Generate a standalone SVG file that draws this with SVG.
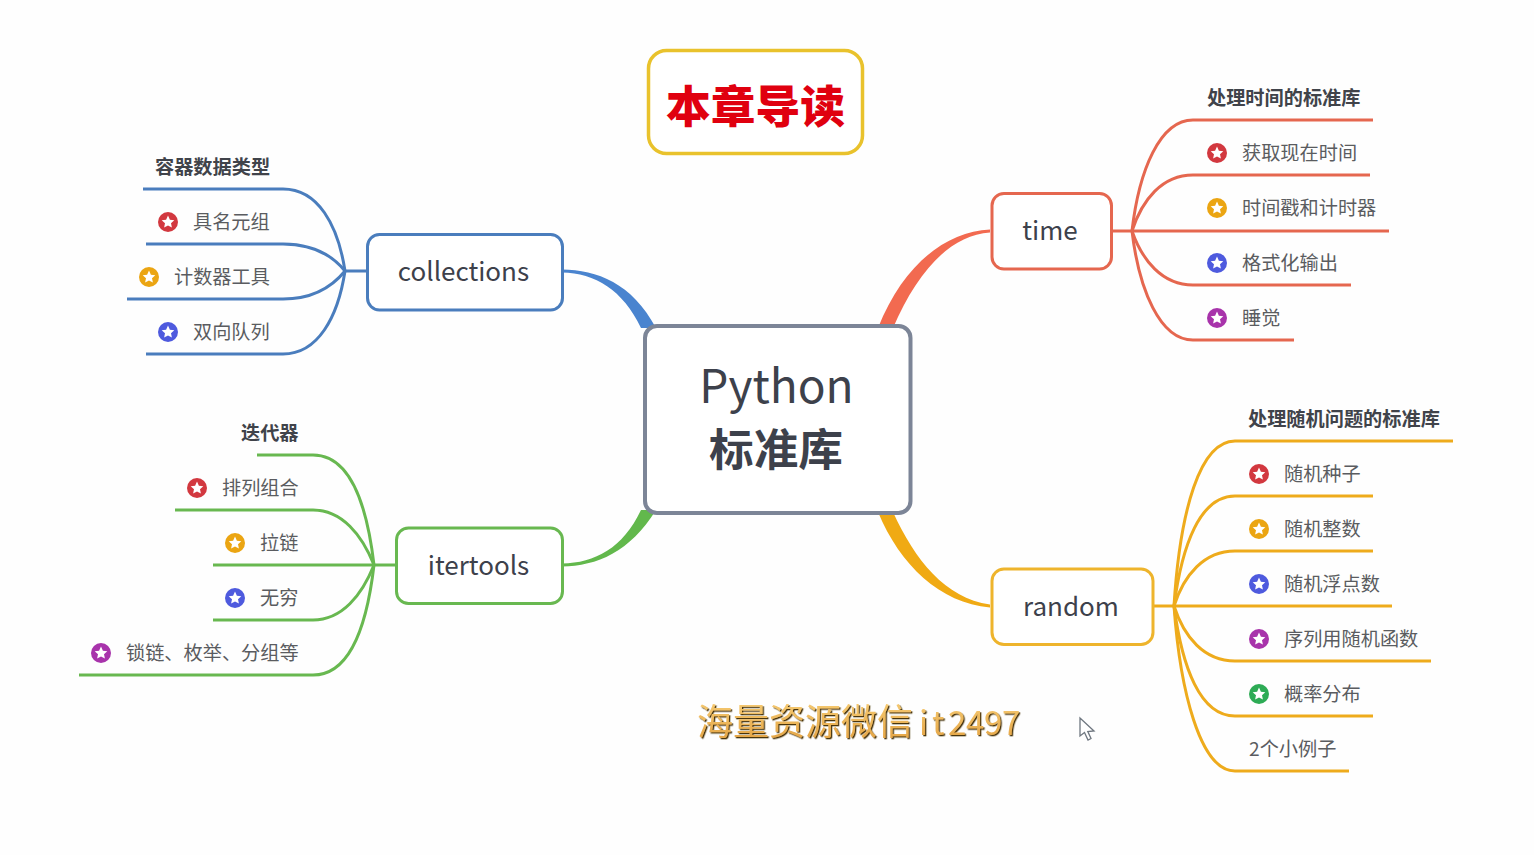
<svg xmlns="http://www.w3.org/2000/svg" width="1534" height="855" viewBox="0 0 1534 855">
<style>
text{font-family:"Noto Sans CJK SC","Noto Sans",sans-serif}
.box{fill:#fff;stroke-width:3}
.nl{font-size:26px;fill:#3d414b;text-anchor:middle}
.it{font-size:19.2px;fill:#5a5c60}
.ti{font-size:19.2px;font-weight:700;fill:#40434a}
.b{fill:none;stroke-width:3}
.blue{stroke:#4a7dbd}.red{stroke:#e5674f}.grn{stroke:#68b850}.yel{stroke:#eeab1c}
</style>
<defs>
<linearGradient id="gold" x1="0" y1="0" x2="0" y2="1"><stop offset="0" stop-color="#f9d27c"/><stop offset="1" stop-color="#e2a040"/></linearGradient>
<filter id="sh" x="-5%" y="-20%" width="110%" height="140%"><feDropShadow dx="1.300" dy="1.300" stdDeviation="0.400" flood-color="#4a3410"/></filter>
<path id="st" d="M0-6.400 1.900-2.200 6.300-1.800 3 1.200 3.900 5.600 0 3.400-3.900 5.600-3 1.200-6.300-1.800-1.900-2.200Z" fill="#fff"/>
<symbol id="s1" overflow="visible"><circle r="10" fill="#d2383f"/><use href="#st"/></symbol>
<symbol id="s2" overflow="visible"><circle r="10" fill="#eba512"/><use href="#st"/></symbol>
<symbol id="s3" overflow="visible"><circle r="10" fill="#4e5ade"/><use href="#st"/></symbol>
<symbol id="s4" overflow="visible"><circle r="10" fill="#a833ab"/><use href="#st"/></symbol>
<symbol id="s5" overflow="visible"><circle r="10" fill="#2dab55"/><use href="#st"/></symbol>
</defs>
<rect width="1534" height="855" fill="#fefefe"/>

<g id="connectors">
<path d="M562 272.500C595 273 623 290 641 328L656 328C632 283 597 270 562 269.500Z" fill="#4a84cf"/>
<path d="M562 566.500C597 566 630 552 656 510L641 510C623 548 595 563 562 563.500Z" fill="#62b84c"/>
<path d="M990 229.500C945 232 903 265 878 328L893 328C917 272 950 235 990 232.500Z" fill="#f26a50"/>
<path d="M990 607.500C940 603 900 565 878 512L893 512C915 560 945 598 990 604.500Z" fill="#f0aa14"/>
<g>
<path class="b blue" d="M367 271H345"/>
<path class="b blue" d="M345 271C338 225 318 189 283 189H143"/>
<path class="b blue" d="M345 271C332 255 312 244 283 244H146"/>
<path class="b blue" d="M345 271C332 287 312 299 283 299H127"/>
<path class="b blue" d="M345 271C338 317 318 354 283 354H146"/>
</g>
<g>
<path class="b grn" d="M396 565H213"/>
<path class="b grn" d="M374 565C367 505 350 455 313 455H257"/>
<path class="b grn" d="M374 565C362 535 342 510 313 510H175"/>
<path class="b grn" d="M374 565C362 595 342 620 313 620H213"/>
<path class="b grn" d="M374 565C367 625 350 675 313 675H79"/>
</g>
<g>
<path class="b red" d="M1112 231H1389"/>
<path class="b red" d="M1132 231C1139 170 1160 120 1193 120H1373"/>
<path class="b red" d="M1132 231C1142 200 1162 175 1193 175H1370"/>
<path class="b red" d="M1132 231C1142 260 1162 285 1193 285H1351"/>
<path class="b red" d="M1132 231C1139 290 1160 340 1193 340H1294"/>
</g>
<g>
<path class="b yel" d="M1153 606H1392"/>
<path class="b yel" d="M1174 606C1180 510 1200 441 1235 441H1453"/>
<path class="b yel" d="M1174 606C1182 545 1200 496 1235 496H1373"/>
<path class="b yel" d="M1174 606C1184 575 1204 551 1235 551H1373"/>
<path class="b yel" d="M1174 606C1184 637 1204 661 1235 661H1431"/>
<path class="b yel" d="M1174 606C1182 667 1200 716 1235 716H1373"/>
<path class="b yel" d="M1174 606C1180 690 1200 771 1235 771H1349"/>
</g>
</g>

<g id="title">
<rect class="box" x="648.500" y="50.500" width="214" height="103" rx="18" stroke="#e9c22c" style="stroke-width:3.500px"/>
<text x="755.500" y="123" font-size="44.700" font-weight="900" fill="#e0000f" text-anchor="middle">本章导读</text>
</g>

<g id="root">
<rect class="box" x="645" y="326" width="265.500" height="187" rx="12" stroke="#7c8597" style="stroke-width:4px"/>
<text x="776.500" y="403" font-size="46" fill="#3d414b" text-anchor="middle">Python</text>
<text x="776" y="466" font-size="44.700" font-weight="700" fill="#3d414b" text-anchor="middle">标准库</text>
</g>

<g id="collections">
<rect class="box" x="367.500" y="234.500" width="195" height="75.500" rx="12" stroke="#4a7dbd"/>
<text class="nl" x="463.500" y="281">collections</text>
<text class="ti" x="155" y="174">容器数据类型</text>
<use href="#s1" x="168" y="222"/><text class="it" x="193" y="229">具名元组</text>
<use href="#s2" x="149" y="277"/><text class="it" x="174" y="284">计数器工具</text>
<use href="#s3" x="168" y="332"/><text class="it" x="193" y="339">双向队列</text>
</g>

<g id="itertools">
<rect class="box" x="396.500" y="528" width="166" height="75.500" rx="12" stroke="#68b850"/>
<text class="nl" x="478.500" y="575">itertools</text>
<text class="ti" x="241" y="440">迭代器</text>
<use href="#s1" x="197" y="488"/><text class="it" x="222" y="495">排列组合</text>
<use href="#s2" x="235" y="543"/><text class="it" x="260" y="550">拉链</text>
<use href="#s3" x="235" y="598"/><text class="it" x="260" y="605">无穷</text>
<use href="#s4" x="101" y="653"/><text class="it" x="126" y="660">锁链、枚举、分组等</text>
</g>

<g id="time">
<rect class="box" x="992" y="193.500" width="119.500" height="75.500" rx="12" stroke="#e5674f"/>
<text class="nl" x="1050" y="240">time</text>
<text class="ti" x="1207" y="105">处理时间的标准库</text>
<use href="#s1" x="1217" y="153"/><text class="it" x="1242" y="160">获取现在时间</text>
<use href="#s2" x="1217" y="208"/><text class="it" x="1242" y="215">时间戳和计时器</text>
<use href="#s3" x="1217" y="263"/><text class="it" x="1242" y="270">格式化输出</text>
<use href="#s4" x="1217" y="318"/><text class="it" x="1242" y="325">睡觉</text>
</g>

<g id="random">
<rect class="box" x="992" y="569" width="161" height="75.500" rx="12" stroke="#eeb42c"/>
<text class="nl" x="1071" y="616">random</text>
<text class="ti" x="1248" y="426">处理随机问题的标准库</text>
<use href="#s1" x="1259" y="474"/><text class="it" x="1284" y="481">随机种子</text>
<use href="#s2" x="1259" y="529"/><text class="it" x="1284" y="536">随机整数</text>
<use href="#s3" x="1259" y="584"/><text class="it" x="1284" y="591">随机浮点数</text>
<use href="#s4" x="1259" y="639"/><text class="it" x="1284" y="646">序列用随机函数</text>
<use href="#s5" x="1259" y="694"/><text class="it" x="1284" y="701">概率分布</text>
<text class="it" x="1249" y="756">2个小例子</text>
</g>

<g id="watermark">
<text y="735" font-size="36" fill="url(#gold)" filter="url(#sh)"><tspan x="697">海量资源微信</tspan><tspan x="919 932 948 966 984 1002" font-size="33">it2497</tspan></text>
</g>
<path id="cursor" d="M1080 718V736L1084.500 732.500 1088 740 1091 738.500 1087.800 731.500 1094 731Z" fill="#fff" stroke="#6f7780" stroke-width="1.300"/>
</svg>
